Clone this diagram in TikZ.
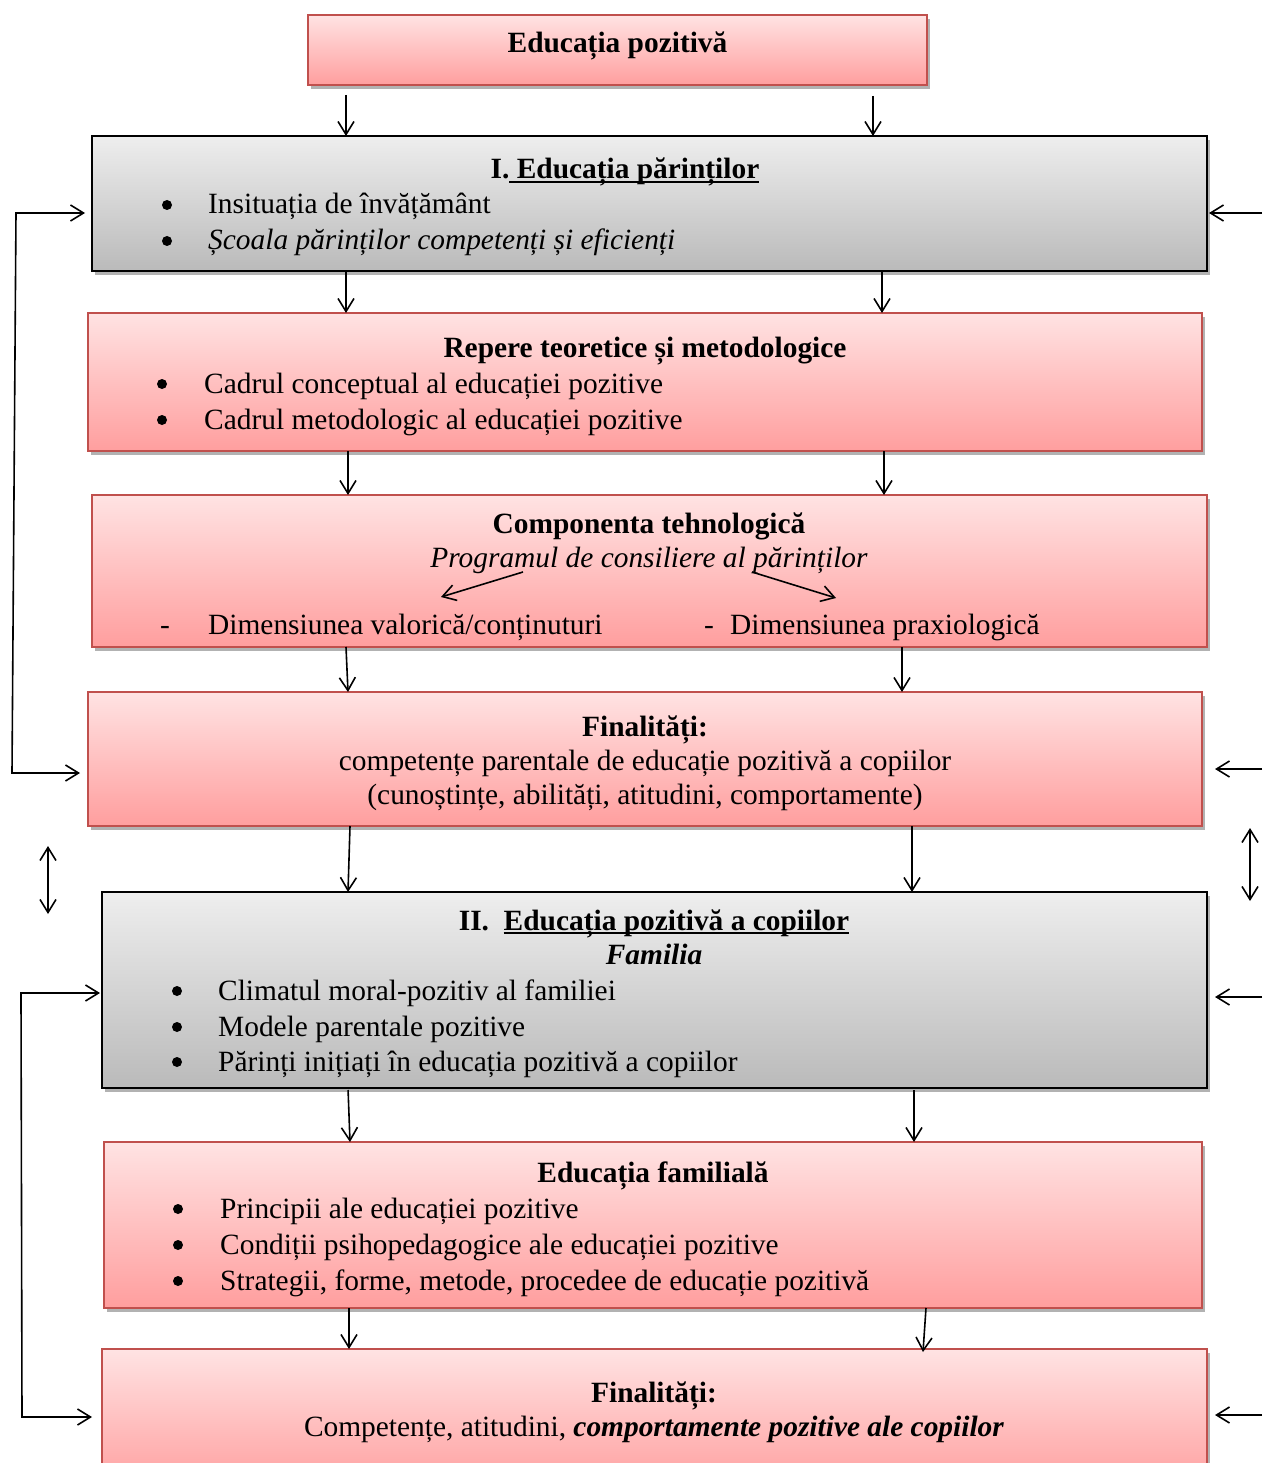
\documentclass[tikz,border=0pt]{standalone}
\usepackage{fontspec}
\setmainfont{Liberation Serif}
\usetikzlibrary{arrows.meta,shadows}
\definecolor{boxred}{HTML}{C0504D}
\definecolor{pinktop}{HTML}{FFE3E3}
\definecolor{pinkbot}{HTML}{FF9E9E}
\definecolor{graytop}{HTML}{EEEEEE}
\definecolor{graybot}{HTML}{BABABA}
\newcommand\myul[1]{\setbox0\hbox{#1}\rlap{\rule[-4pt]{\wd0}{2pt}}\box0}
\tikzset{
 boxbase/.style={rectangle, inner sep=0pt, outer sep=0pt,
   drop shadow={shadow xshift=3pt, shadow yshift=-4pt, opacity=0.3, fill=black}},
 pinkbox/.style={boxbase, draw=boxred, line width=1.8pt, top color=pinktop, bottom color=pinkbot},
 graybox/.style={boxbase, draw=black, line width=2pt, top color=graytop, bottom color=graybot},
 txt/.style={inner sep=0pt, font=\fontsize{29.4}{35}\selectfont},
 bul/.style={circle, fill=black, inner sep=0pt, minimum size=10pt},
 dsh/.style={txt, anchor=base},
 vtip/.tip={Straight Barb[length=13pt,width=16pt,line width=1.6pt]},
 arr/.style={line width=1.6pt, -{vtip}},
 darr/.style={line width=1.6pt, {vtip}-{vtip}},
}
\begin{document}
\begin{tikzpicture}[x=1pt,y=-1pt]
\useasboundingbox (0,0) rectangle (1262,1463);

% boxes
\node[pinkbox, minimum width=619pt, minimum height=70pt] (top) at (617.5,50) {};
\node[graybox, minimum width=1115pt, minimum height=135pt] (b1) at (649.5,203.5) {};
\node[pinkbox, minimum width=1114pt, minimum height=138pt] (b2) at (645,382) {};
\node[pinkbox, minimum width=1115pt, minimum height=152pt] (b3) at (649.5,571) {};
\node[pinkbox, minimum width=1114pt, minimum height=134pt] (b4) at (645,759) {};
\node[graybox, minimum width=1105pt, minimum height=196pt] (b5) at (654.5,990) {};
\node[pinkbox, minimum width=1098pt, minimum height=166pt] (b6) at (653,1225) {};
\node[pinkbox, minimum width=1105pt, minimum height=141pt] (b7) at (654.5,1419.5) {};

% texts
\node[txt, anchor=base] (t0) at (617.5,53) {\textbf{Educația pozitivă}};

\node[txt, anchor=base] (t1) at (625,179) {\textbf{I.\myul{ Educația părinților}}};
\node[bul] (t1b1) at (167,205) {};
\node[txt, anchor=base west] (t1a) at (208,214) {Insituația de învățământ};
\node[bul] (t1b2) at (167,241) {};
\node[txt, anchor=base west] (t1c) at (208,250) {\textit{Școala părinților competenți și eficienți}};

\node[txt, anchor=base] (t2) at (645,357) {\textbf{Repere teoretice și metodologice}};
\node[bul] (t2b1) at (162,384) {};
\node[txt, anchor=base west] (t2a) at (204,393) {Cadrul conceptual al educației pozitive};
\node[bul] (t2b2) at (162,420) {};
\node[txt, anchor=base west] (t2c) at (204,429) {Cadrul metodologic al educației pozitive};

\node[txt, anchor=base] (t3) at (649,533) {\textbf{Componenta tehnologică}};
\node[txt, anchor=base] (t3s) at (649,567) {\textit{Programul de consiliere al părinților}};
\node[dsh] (t3d1) at (165,634) {-};
\node[txt, anchor=base west] (t3a) at (208,634) {Dimensiunea valorică/conținuturi};
\node[dsh] (t3d2) at (709,634) {-};
\node[txt, anchor=base west] (t3c) at (730,634) {Dimensiunea praxiologică};
\coordinate (p1) at (523,572);
\coordinate (q1) at (441,597);
\coordinate (p2) at (752,572);
\coordinate (q2) at (836,598);
\draw[arr] (p1) -- (q1);
\draw[arr] (p2) -- (q2);

\node[txt, anchor=base] (t4) at (645,736) {\textbf{Finalități:}};
\node[txt, anchor=base] (t4a) at (645,770) {competențe parentale de educație pozitivă a copiilor};
\node[txt, anchor=base] (t4b) at (645,804) {(cunoștințe, abilități, atitudini, comportamente)};

\node[txt, anchor=base] (t5) at (654,930) {\textbf{II.\ \ \myul{Educația pozitivă a copiilor}}};
\node[txt, anchor=base] (t5s) at (654,964) {\textbf{\textit{Familia}}};
\node[bul] (t5b1) at (177,991) {};
\node[txt, anchor=base west] (t5a) at (218,1000) {Climatul moral-pozitiv al familiei};
\node[bul] (t5b2) at (177,1027) {};
\node[txt, anchor=base west] (t5c) at (218,1036) {Modele parentale pozitive};
\node[bul] (t5b3) at (177,1062) {};
\node[txt, anchor=base west] (t5d) at (218,1071) {Părinți inițiați în educația pozitivă a copiilor};

\node[txt, anchor=base] (t6) at (653,1182) {\textbf{Educația familială}};
\node[bul] (t6b1) at (178,1209) {};
\node[txt, anchor=base west] (t6a) at (220,1218) {Principii ale educației pozitive};
\node[bul] (t6b2) at (178,1245) {};
\node[txt, anchor=base west] (t6c) at (220,1254) {Condiții psihopedagogice ale educației pozitive};
\node[bul] (t6b3) at (178,1281) {};
\node[txt, anchor=base west] (t6d) at (220,1290) {Strategii, forme, metode, procedee de educație pozitivă};

\node[txt, anchor=base] (t7) at (654,1402) {\textbf{Finalități:}};
\node[txt, anchor=base] (t7a) at (654,1436) {Competențe, atitudini, \textbf{\textit{comportamente pozitive ale copiilor}}};

% vertical arrows between boxes
\draw[arr, shorten <=10pt] (top.south -| 346,0) -- (b1.north -| 346,0);
\draw[arr, shorten <=11pt] (top.south -| 873,0) -- (b1.north -| 873,0);
\draw[arr] (b1.south -| 346,0) -- (b2.north -| 346,0);
\draw[arr] (b1.south -| 882,0) -- (b2.north -| 882,0);
\draw[arr] (b2.south -| 348,0) -- (b3.north -| 348,0);
\draw[arr] (b2.south -| 884,0) -- (b3.north -| 884,0);
\draw[arr] (b3.south -| 346,0) -- (b4.north -| 348,0);
\draw[arr] (b3.south -| 902,0) -- (b4.north -| 902,0);
\draw[arr] (b4.south -| 350,0) -- (b5.north -| 348,0);
\draw[arr] (b4.south -| 912,0) -- (b5.north -| 912,0);
\draw[arr, shorten <=2pt] (b5.south -| 348,0) -- (b6.north -| 350,0);
\draw[arr, shorten <=2pt] (b5.south -| 914,0) -- (b6.north -| 914,0);
\draw[arr] (b6.south -| 349,0) -- (b7.north -| 349,0);
\draw[arr] (b6.south -| 926,0) -- ([yshift=-3pt]b7.north -| 923,0);

% left feedback loops
\coordinate (L1) at (16,213);
\coordinate (L2) at (12,773);
\draw[darr, shorten <=7pt, shorten >=8pt] (b1.west |- L1) -- (L1) -- (L2) -- (b4.west |- L2);
\coordinate (L3) at (21,993);
\coordinate (L4) at (22,1417);
\draw[darr, shorten <=2pt, shorten >=10pt] (b5.west |- L3) -- (L3) -- (L4) -- (b7.west |- L4);

% right incoming arrows
\coordinate (R1) at (1262,213);
\coordinate (R2) at (1262,769);
\coordinate (R3) at (1262,997);
\coordinate (R4) at (1262,1415);
\draw[arr, shorten >=2pt] (R1) -- (b1.east |- R1);
\draw[arr, shorten >=13pt] (R2) -- (b4.east |- R2);
\draw[arr, shorten >=8pt] (R3) -- (b5.east |- R3);
\draw[arr, shorten >=8pt] (R4) -- (b7.east |- R4);

% vertical double arrows
\coordinate (V1) at (48,846);
\coordinate (V2) at (48,914);
\coordinate (V3) at (1250,828);
\coordinate (V4) at (1250,901);
\draw[darr] (V1) -- (V2);
\draw[darr] (V3) -- (V4);
\end{tikzpicture}
\end{document}
